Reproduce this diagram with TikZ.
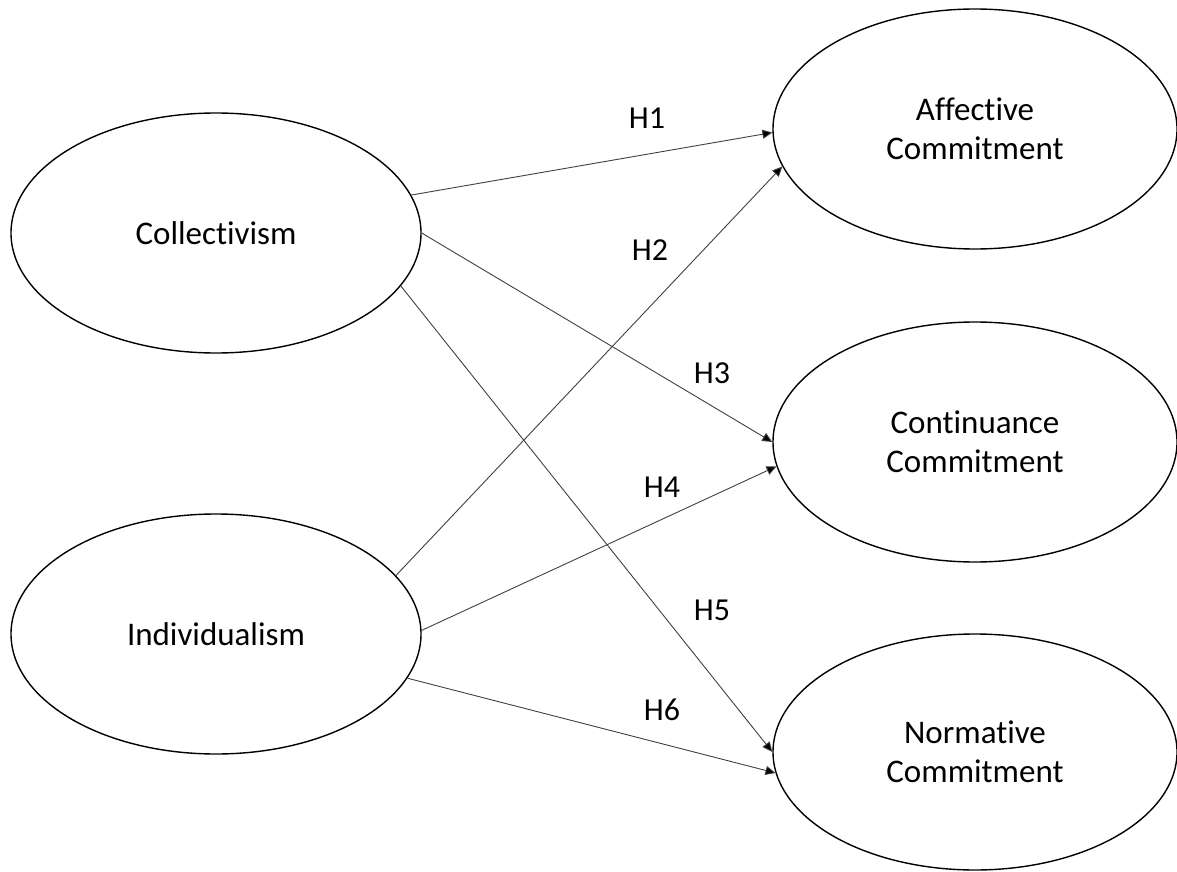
\documentclass[tikz,border=0pt]{standalone}
\usepackage{fontspec}
\setmainfont[Ligatures=NoCommon]{Carlito}
\usetikzlibrary{shapes.geometric,arrows.meta}
\begin{document}
\begin{tikzpicture}[x=1pt,y=-1pt,
  construct/.style={ellipse, draw, line width=1.4pt, minimum width=410pt, minimum height=240pt, inner sep=0pt, align=center, font=\fontsize{33}{39}\selectfont},
  path/.style={line width=0.9pt, draw=black!75, -{Triangle[length=10pt,width=9pt,fill=black]}},
  hyp/.style={font=\fontsize{32}{37}\selectfont}]
\useasboundingbox (0,0) rectangle (1177,872);
\node[construct] (coll) at (216,233) {Collectivism};
\node[construct] (indiv) at (216,634) {Individualism};
\node[construct, minimum width=404pt] (aff) at (975,129) {Affective\\Commitment};
\node[construct, minimum width=404pt] (cont) at (975,442) {Continuance\\Commitment};
\node[construct, minimum width=404pt, minimum height=236pt] (norm) at (975,752) {Normative\\Commitment};
\draw[path] (coll.11.3) -- (aff.181);
\draw[path] (indiv.18.3) -- (aff.191.8);
\draw[path] (coll.0) -- (cont.180);
\draw[path] (indiv.1) -- (cont.187.7);
\draw[path] (coll.-16.5) -- (norm.180);
\draw[path] (indiv.-13.5) -- (norm.186);
\node[hyp] (h1) at (647,118) {H1};
\node[hyp] (h2) at (650,250) {H2};
\node[hyp] (h3) at (712,373) {H3};
\node[hyp] (h4) at (662,487) {H4};
\node[hyp] (h5) at (712,610) {H5};
\node[hyp] (h6) at (662,710) {H6};
\end{tikzpicture}
\end{document}
